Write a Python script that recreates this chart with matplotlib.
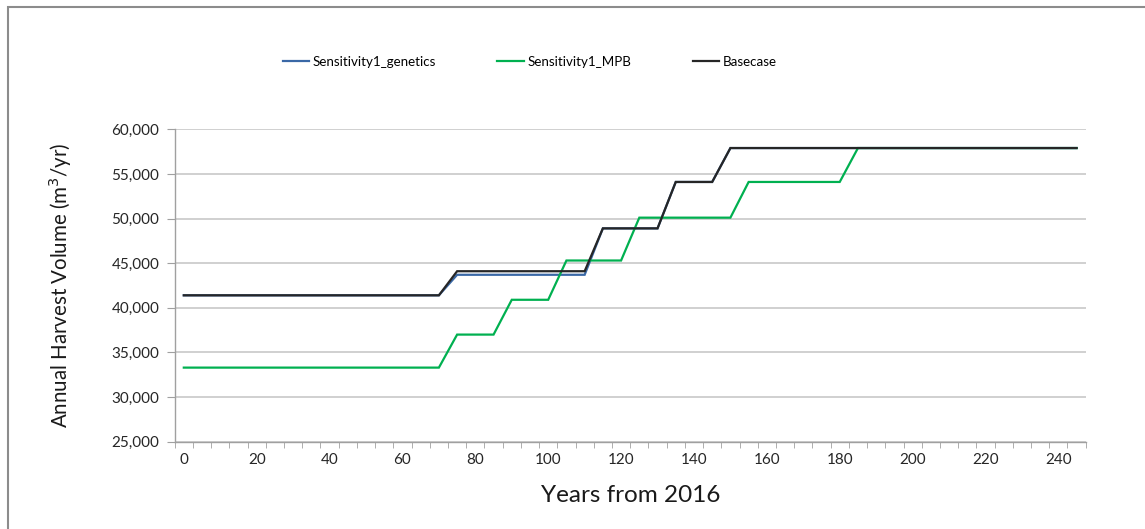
import matplotlib
matplotlib.use('Agg')
import matplotlib.pyplot as plt
from matplotlib.patches import Rectangle

# ============ data ============
years = list(range(0, 250, 5))

basecase = ([41400] * 15 + [44100] * 8 + [48900] * 4 + [54100] * 3 + [57900] * 20)
genetics = ([41400] * 15 + [43700] * 8 + [48900] * 4 + [54100] * 3 + [57900] * 20)
mpb = ([33300] * 15 + [37000] * 3 + [40900] * 3 + [45300] * 4 + [50100] * 6
       + [54100] * 6 + [57900] * 13)

series_names = ['Sensitivity1_genetics', 'Sensitivity1_MPB', 'Basecase']
series_colors = ['#3A68A6', '#00B050', '#262626']

y_ticks = list(range(25000, 60001, 5000))
x_labels = list(range(0, 241, 20))

plt.rcParams['font.family'] = ['Lato', 'DejaVu Sans']

fig = plt.figure(figsize=(11.45, 5.29), dpi=100)
ax = fig.add_axes([174.7 / 1145, 1 - 441.7 / 529, 911 / 1145, 312.4 / 529])

# category positions (Excel style line chart)
pos = list(range(len(years)))
for vals, name, col in zip([genetics, mpb, basecase], series_names, series_colors):
    ax.plot(pos, vals, color=col, lw=1.6, label=name, solid_joinstyle='miter')

ax.set_xlim(-0.5, len(years) - 0.5)
ax.set_ylim(25000, 60000)

ax.set_yticks(y_ticks)
ax.set_yticklabels([f'{v:,}' for v in y_ticks], fontsize=11, color='#262626')
ax.yaxis.grid(True, color='#C8C8C8', lw=1.2)
ax.set_axisbelow(True)

ax.set_xticks([years.index(v) for v in x_labels])
ax.set_xticklabels([str(v) for v in x_labels], fontsize=11, color='#262626')
ax.set_xticks([i - 0.5 for i in range(len(years) + 1)], minor=True)
ax.tick_params(axis='x', which='major', length=0, pad=8)
ax.tick_params(axis='x', which='minor', length=4, color='#A0A0A0', direction='out')
ax.tick_params(axis='y', length=6, color='#A0A0A0', pad=5)

for s in ['top', 'right']:
    ax.spines[s].set_visible(False)
for s in ['left', 'bottom']:
    ax.spines[s].set_color('#A0A0A0')
    ax.spines[s].set_linewidth(1.0)

ax.set_ylabel('Annual Harvest Volume (m$^3$/yr)', fontsize=14.8, color='#1a1a1a', labelpad=27)
ax.set_xlabel('Years from 2016', fontsize=17.5, color='#1a1a1a', labelpad=13)

fig.legend(loc='center', bbox_to_anchor=(0.4625, 1 - 62 / 529), ncol=3, frameon=False,
           fontsize=9.6, handlelength=2.0, columnspacing=4.6, handletextpad=0.25)

# outer chart border
fig.patches.append(Rectangle((8 / 1145, -0.1), 1.2, 1 - 7 / 529 + 0.1,
                             transform=fig.transFigure, fill=False,
                             edgecolor='#8C8C8C', lw=1.5))

plt.savefig('out.png', dpi=100)
plt.close()
